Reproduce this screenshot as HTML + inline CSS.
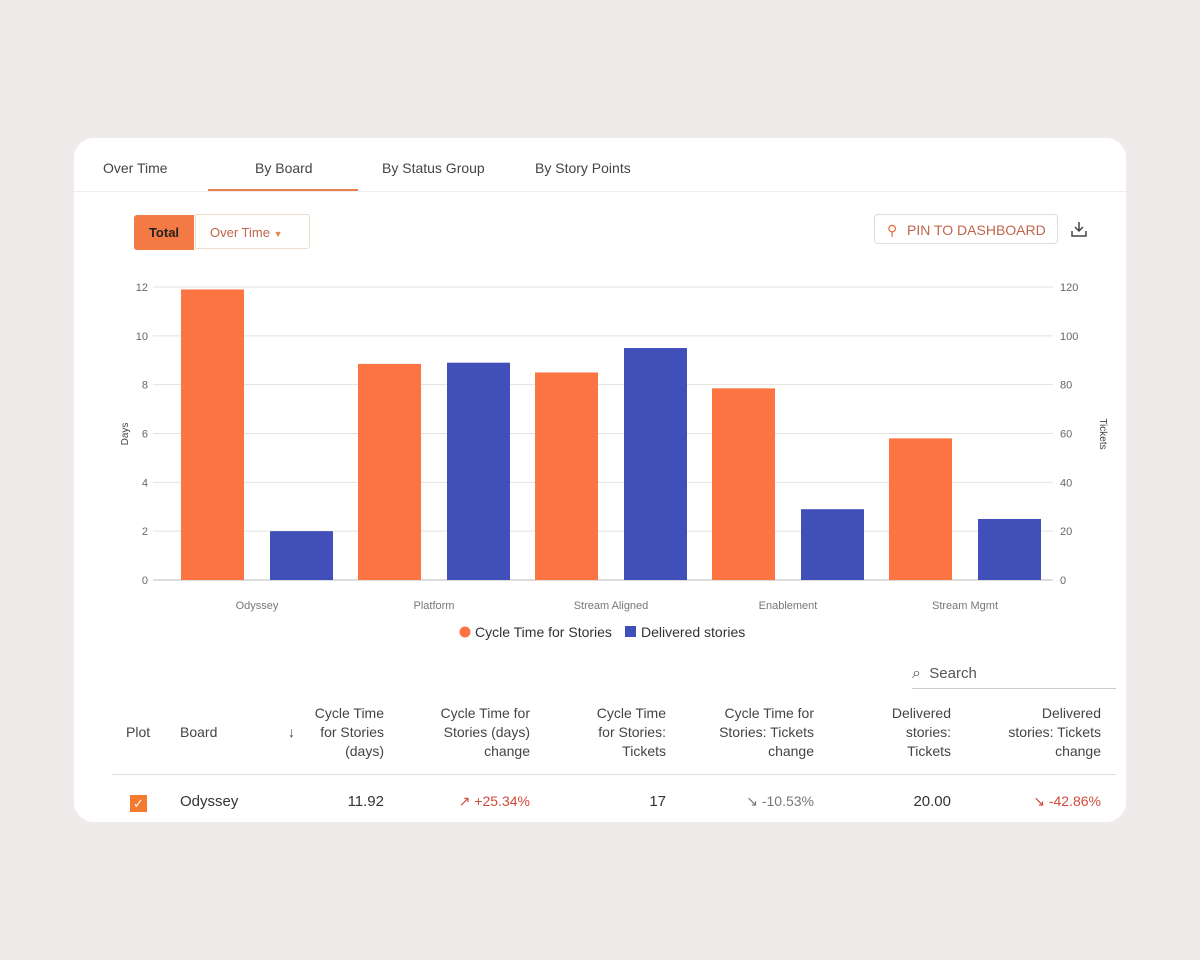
<!DOCTYPE html>
<html><head><meta charset="utf-8"><style>
body{margin:0;width:1200px;height:960px;background:#f0ebeb;font-family:"Liberation Sans",sans-serif;position:relative;overflow:hidden}
.card{position:absolute;left:74px;top:138px;width:1052px;height:684px;background:#fff;border-radius:20px;overflow:hidden}
.tab{position:absolute;top:22px;font-size:14px;color:#444}
.abs{position:absolute}
th,td{font-weight:normal}
.h{position:absolute;font-size:14px;color:#444;text-align:right;line-height:19px}
.c{position:absolute;font-size:15px;color:#333;top:655px}
</style></head><body>
<div class="card">
 <div class="tab" style="left:29px">Over Time</div>
 <div class="tab" style="left:181px">By Board</div>
 <div class="tab" style="left:308px">By Status Group</div>
 <div class="tab" style="left:461px">By Story Points</div>
 <div class="abs" style="left:0;top:53px;width:1052px;height:1px;background:#eee"></div>
 <div class="abs" style="left:134px;top:51px;width:150px;height:2px;background:#e98050"></div>
 <div class="abs" style="left:60px;top:77px;width:60px;height:35px;background:#f47a45;border-radius:3px 0 0 3px;color:#222;font-size:13px;font-weight:bold;line-height:35px;text-align:center">Total</div>
 <div class="abs" style="left:121px;top:76px;width:115px;height:35px;border:1px solid #f0dcc8;border-radius:0 3px 3px 0;color:#c0664a;font-size:13px;line-height:35px;padding-left:14px;box-sizing:border-box">Over Time <span style="font-size:9px;color:#e98050">▼</span></div>
 <div class="abs" style="left:800px;top:76px;width:184px;height:30px;border:1px solid #ddd;border-radius:4px;color:#c0664a;font-size:14px;line-height:30px;box-sizing:border-box;padding-left:32px"><span style="position:absolute;left:12px;color:#e07040">⚲</span>PIN TO DASHBOARD</div>
 <svg class="abs" style="left:996px;top:82px" width="18" height="18"><path d="M9 2v9M5 7l4 4 4-4M2 11v5h14v-5" fill="none" stroke="#444" stroke-width="1.5"/></svg>
 <div class="abs" style="left:838px;top:527px;font-size:15px;color:#555"><span style="font-size:16px">⌕</span>&nbsp; Search</div>
 <div class="abs" style="left:838px;top:550px;width:204px;height:1px;background:#ccc"></div>
 <div class="h" style="left:52px;top:585px">Plot</div>
 <div class="h" style="left:106px;top:585px">Board</div>
 <div class="h" style="left:214px;top:585px">↓</div>
 <div class="h" style="left:230px;top:566px;width:80px">Cycle Time<br>for Stories<br>(days)</div>
 <div class="h" style="left:346px;top:566px;width:110px">Cycle Time for<br>Stories (days)<br>change</div>
 <div class="h" style="left:500px;top:566px;width:92px">Cycle Time<br>for Stories:<br>Tickets</div>
 <div class="h" style="left:620px;top:566px;width:120px">Cycle Time for<br>Stories: Tickets<br>change</div>
 <div class="h" style="left:780px;top:566px;width:97px">Delivered<br>stories:<br>Tickets</div>
 <div class="h" style="left:900px;top:566px;width:127px">Delivered<br>stories: Tickets<br>change</div>
 <div class="abs" style="left:38px;top:636px;width:1004px;height:1px;background:#ddd"></div>
 <div class="abs" style="left:56px;top:657px;width:17px;height:17px;background:#f47a30;color:#fff;font-size:13px;text-align:center;line-height:17px">✓</div>
 <div class="c" style="left:106px">Odyssey</div>
 <div class="c" style="left:230px;width:80px;text-align:right">11.92</div>
 <div class="c" style="left:346px;width:110px;text-align:right;color:#d04a3a;font-size:14px">↗ +25.34%</div>
 <div class="c" style="left:500px;width:92px;text-align:right">17</div>
 <div class="c" style="left:620px;width:120px;text-align:right;color:#777;font-size:14px">↘ -10.53%</div>
 <div class="c" style="left:780px;width:97px;text-align:right">20.00</div>
 <div class="c" style="left:900px;width:127px;text-align:right;color:#d04a3a;font-size:14px">↘ -42.86%</div>
</div>
<svg id="chart" class="abs" style="position:absolute;left:0;top:0" width="1200" height="960"></svg>
<script>
const categories=["Odyssey","Platform","Stream Aligned","Enablement","Stream Mgmt"];
const cycleTime=[11.9,8.85,8.5,7.85,5.8];
const delivered=[20,89,95,29,25];
const leftTicks=[0,2,4,6,8,10,12];
const rightTicks=[0,20,40,60,80,100,120];
const svg=document.getElementById('chart');
const NS='http://www.w3.org/2000/svg';
const x0=169,bw=177,y0=580,yTop=287;
const yL=v=>y0-(v/12)*(y0-yTop);
const yR=v=>y0-(v/120)*(y0-yTop);
function mk(t,a,txt){const e=document.createElementNS(NS,t);for(const k in a)e.setAttribute(k,a[k]);if(txt!=null)e.textContent=txt;svg.appendChild(e);return e;}
leftTicks.forEach((t,i)=>{
 const g=mk('line',{x1:153,x2:1053,y1:yL(t),y2:yL(t),stroke:i==0?'#bbb':'#e2e2e2'});
 
 
 const l=mk('text',{x:148,y:yL(t)+4,'font-size':11,fill:'#666','text-anchor':'end'},t);
 
 
});
rightTicks.forEach(t=>{
 const l=mk('text',{x:1060,y:yR(t)+4,'font-size':11,fill:'#666'},t);
 
 
});
categories.forEach((c,i)=>{
 const gx=x0+i*bw;
 const a=mk('rect',{x:gx+12,y:yL(cycleTime[i]),width:63,height:y0-yL(cycleTime[i]),fill:'#fd7443'});
 
 
 const b=mk('rect',{x:gx+101,y:yR(delivered[i]),width:63,height:y0-yR(delivered[i]),fill:'#4150b8'});
 
 
 const l=mk('text',{x:gx+88,y:609,'font-size':11,fill:'#777','text-anchor':'middle'},c);
 
 
});
const yt=mk('text',{x:0,y:0,'font-size':10,fill:'#444','text-anchor':'middle',transform:'translate(128,434) rotate(-90)'},'Days');


const yt2=mk('text',{x:0,y:0,'font-size':10,fill:'#444','text-anchor':'middle',transform:'translate(1100,434) rotate(90)'},'Tickets');


const lc=mk('circle',{cx:465,cy:632,r:5.5,fill:'#fd7443'});


const lt=mk('text',{x:475,y:637,'font-size':14,fill:'#333'},'Cycle Time for Stories');


const ld=mk('rect',{x:625,y:626,width:11,height:11,fill:'#4150b8'});


const lt2=mk('text',{x:641,y:637,'font-size':14,fill:'#333'},'Delivered stories');


</script>
</body></html>
